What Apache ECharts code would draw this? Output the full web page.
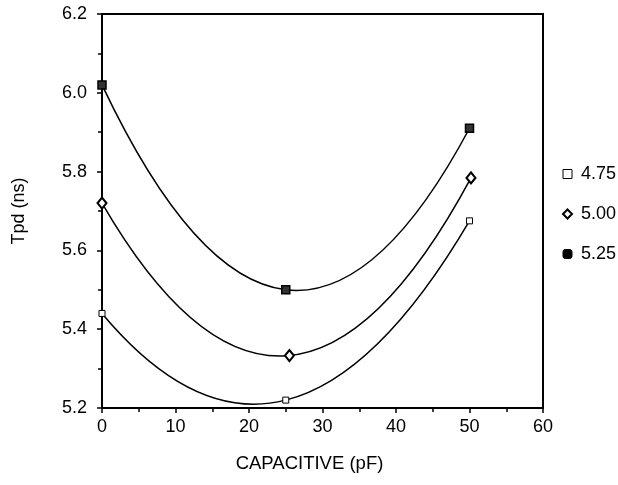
<!DOCTYPE html>
<html>
<head>
<meta charset="utf-8">
<script src="https://cdn.jsdelivr.net/npm/echarts@6/dist/echarts.min.js"></script>
<style>
html,body{margin:0;padding:0;background:#fff;}
#c{width:618px;height:485px;}
</style>
</head>
<body>
<div id="c"></div>
<script>
// Capacitance (pF) and Tpd (ns) readings per supply voltage
const x475 = [0, 25, 50];
const s475 = [5.44, 5.22, 5.675];
const x500 = [0, 25.5, 50.2];
const s500 = [5.72, 5.333, 5.784];
const x525 = [0, 25, 50];
const s525 = [6.02, 5.50, 5.91];
const seriesNames = ['4.75', '5.00', '5.25'];

const FONT = "'Liberation Sans Narrow','Arial Narrow','Liberation Sans',sans-serif";

function pts(xs, ys){ return xs.map((x,i)=>[x, ys[i]]); }

// Smooth trend curve through the three measured points of a series,
// drawn as a quadratic Bezier in the chart's coordinate system.
function curveSeries(id, xs, ys){
  return {
    id: id, type:'custom', silent:true, z:1,
    data: [[xs[0], ys[0]]],
    renderItem: function(params, api){
      const [x0,x1,x2] = xs, [y0,y1,y2] = ys;
      const d0 = y0*(2*x0-x1-x2)/((x0-x1)*(x0-x2))
               + y1*(x0-x2)/((x1-x0)*(x1-x2))
               + y2*(x0-x1)/((x2-x0)*(x2-x1));
      const cx = (x0+x2)/2, cy = y0 + d0*(x2-x0)/2;
      const p0 = api.coord([x0,y0]), c = api.coord([cx,cy]), p2 = api.coord([x2,y2]);
      return {
        type:'bezierCurve',
        shape:{x1:p0[0], y1:p0[1], x2:p2[0], y2:p2[1], cpx1:c[0], cpy1:c[1]},
        style:{stroke:'#000', lineWidth:1.5, fill:null}
      };
    }
  };
}

const chart = echarts.init(document.getElementById('c'), null, {renderer:'canvas'});
chart.setOption({
  animation:false,
  backgroundColor:'#fff',
  textStyle:{fontFamily:FONT, color:'#000'},
  grid:{left:102, right:75, top:14, bottom:77, show:true, borderColor:'#000', borderWidth:2, backgroundColor:'transparent'},
  legend:{
    orient:'vertical', left:557, top:160, itemGap:22,
    itemWidth:9, itemHeight:9,
    textStyle:{fontFamily:FONT, fontSize:18, color:'#000', padding:[0,0,0,4]},
    data:[
      {name:'4.75', icon:'rect', itemStyle:{color:'#fff', borderColor:'#000', borderWidth:1}},
      {name:'5.00', icon:'diamond', itemStyle:{color:'#fff', borderColor:'#000', borderWidth:2}},
      {name:'5.25', icon:'roundRect', itemStyle:{color:'#000', borderColor:'#000', borderWidth:1}}
    ]
  },
  xAxis:{
    type:'value', min:0, max:60, interval:10,
    name:'CAPACITIVE (pF)', nameLocation:'middle', nameGap:46,
    nameTextStyle:{fontFamily:FONT, fontSize:18.5, color:'#000', padding:[0,26,0,0]},
    axisLine:{show:true, lineStyle:{color:'#000', width:2}},
    axisTick:{show:true, length:5, lineStyle:{color:'#000', width:1.5}},
    minorTick:{show:true, splitNumber:2, length:4, lineStyle:{color:'#000', width:1.5}},
    axisLabel:{fontFamily:FONT, fontSize:18, color:'#000', margin:10},
    splitLine:{show:false}
  },
  yAxis:{
    type:'value', min:5.2, max:6.2, interval:0.2,
    name:'Tpd (ns)', nameLocation:'middle', nameGap:74, nameRotate:90,
    nameTextStyle:{fontFamily:FONT, fontSize:18, color:'#000'},
    axisLine:{show:true, lineStyle:{color:'#000', width:2}},
    axisTick:{show:true, length:5, lineStyle:{color:'#000', width:1.5}},
    minorTick:{show:true, splitNumber:2, length:4, lineStyle:{color:'#000', width:1.5}},
    axisLabel:{fontFamily:FONT, fontSize:18, color:'#000', margin:15, formatter:v=>v.toFixed(1)},
    splitLine:{show:false}
  },
  series:[
    curveSeries('c475', x475, s475),
    curveSeries('c500', x500, s500),
    curveSeries('c525', x525, s525),
    {name:seriesNames[0], type:'scatter', z:3, data:pts(x475, s475),
     symbol:'rect', symbolSize:6,
     itemStyle:{color:'#fff', borderColor:'#000', borderWidth:1, opacity:1}},
    {name:seriesNames[1], type:'scatter', z:3, data:pts(x500, s500),
     symbol:'diamond', symbolSize:[9,11],
     itemStyle:{color:'#fff', borderColor:'#000', borderWidth:2, opacity:1}},
    {name:seriesNames[2], type:'scatter', z:3, data:pts(x525, s525),
     symbol:'rect', symbolSize:8,
     itemStyle:{color:'#333', borderColor:'#000', borderWidth:1.5, opacity:1}}
  ]
});
</script>
</body>
</html>
